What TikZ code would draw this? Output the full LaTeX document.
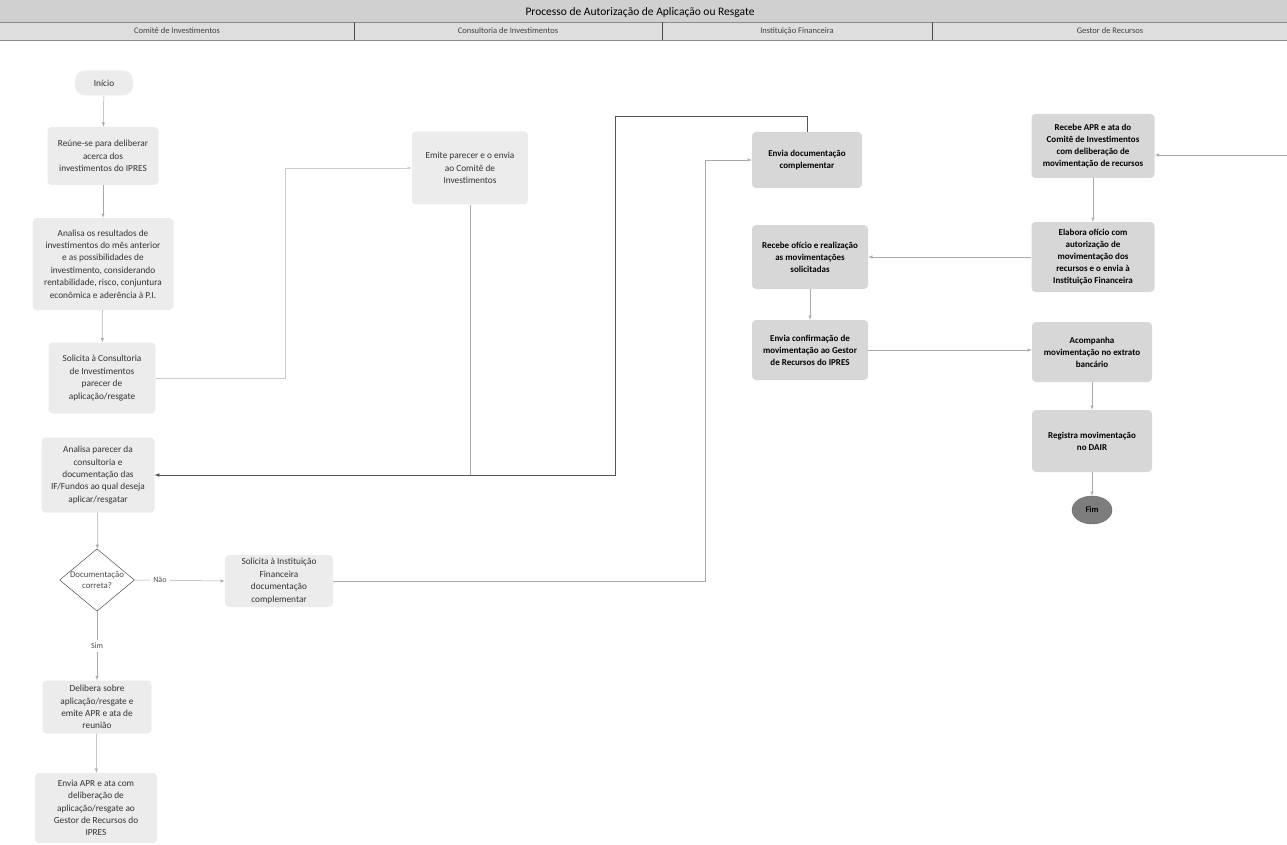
\documentclass[tikz,border=0pt]{standalone}
\usepackage{fontspec}
\setmainfont{Carlito}
\usetikzlibrary{shapes.geometric}
\definecolor{titlegray}{RGB}{208,208,208}
\definecolor{lanegray}{RGB}{222,222,222}
\definecolor{stepfill}{RGB}{236,236,236}
\definecolor{stepdark}{RGB}{215,215,215}
\definecolor{flowgray}{RGB}{170,170,170}
\definecolor{loopgray}{RGB}{85,85,85}
\definecolor{finish}{RGB}{125,125,125}
\tikzstyle{box}=[rectangle, rounded corners=4pt, fill=stepfill, align=center, inner sep=2pt, text=black!80, font=\fontsize{9.3}{12.4}\selectfont]
\tikzstyle{darkbox}=[box, fill=stepdark, text=black, font=\fontsize{9}{12}\selectfont\bfseries]
\tikzstyle{decision}=[diamond, aspect=1.2, draw=black!70, line width=.5pt, fill=white, align=center, inner sep=0pt, text=black!70, font=\fontsize{8.8}{11.5}\selectfont]
\tikzset{flow/.style={-latex, draw=flowgray, line width=.5pt}}
\tikzset{back/.style={-latex, draw=loopgray, line width=.6pt}}
\tikzset{lanetitle/.style={font=\fontsize{8.5}{10}\selectfont, text=black!75}}

\begin{document}
\begin{tikzpicture}[x=1pt,y=-1pt]
  \useasboundingbox (0,0) rectangle (1287,845);
  %% Header
  \fill[titlegray] (0,0) rectangle (1287,22);
  \fill[lanegray] (0,22) rectangle (1287,40);
  \draw[black!45,line width=.4pt] (0,22) -- (1287,22);
  \draw[black!45,line width=.4pt] (0,40) -- (1287,40);
  \draw[black!70,line width=.5pt] (354,22) -- (354,40);
  \draw[black!70,line width=.5pt] (662,22) -- (662,40);
  \draw[black!70,line width=.5pt] (932,22) -- (932,40);
  \draw (640,12) node[font=\fontsize{11.5}{13}\selectfont] (T0) {Processo de Autorização de Aplicação ou Resgate};
  \draw (177,31) node[lanetitle] (L1) {Comitê de Investimentos};
  \draw (508,31) node[lanetitle] (L2) {Consultoria de Investimentos};
  \draw (797,31) node[lanetitle] (L3) {Instituição Financeira};
  \draw (1110,31) node[lanetitle] (L4) {Gestor de Recursos};

  %% Comite de Investimentos
  \draw (104,83) node[box,rounded corners=10pt,minimum width=58,minimum height=25] (C1) {Início};
  \draw (103,156) node[box,minimum width=111,minimum height=58] (C2) {Reúne-se para deliberar\\acerca dos\\investimentos do IPRES};
  \draw (103,264) node[box,minimum width=141,minimum height=92] (C3) {Analisa os resultados de\\investimentos do mês anterior\\e as possibilidades de\\investimento, considerando\\rentabilidade, risco, conjuntura\\econômica e aderência à P.I.};
  \draw (102,378) node[box,minimum width=107,minimum height=71] (C4) {Solicita à Consultoria\\de Investimentos\\parecer de\\aplicação/resgate};
  \draw (98,475) node[box,minimum width=113,minimum height=75] (C5) {Analisa parecer da\\consultoria e\\documentação das\\IF/Fundos ao qual deseja\\aplicar/resgatar};
  \draw (97,580) node[decision] (C6) {Documentação\\correta?};
  \draw (279,581) node[box,minimum width=108,minimum height=52] (C7) {Solicita à Instituição\\Financeira\\documentação\\complementar};
  \draw (97,707) node[box,minimum width=109,minimum height=53] (C8) {Delibera sobre\\aplicação/resgate e\\emite APR e ata de\\reunião};
  \draw (96,808) node[box,minimum width=122,minimum height=70] (C9) {Envia APR e ata com\\deliberação de\\aplicação/resgate ao\\Gestor de Recursos do\\IPRES};

  %% Consultoria
  \draw (470,168) node[box,minimum width=116,minimum height=73] (K1) {Emite parecer e o envia\\ao Comitê de\\Investimentos};

  %% Instituicao Financeira
  \draw (807,160) node[darkbox,minimum width=110,minimum height=56] (F1) {Envia documentação\\complementar};
  \draw (810,257) node[darkbox,minimum width=116,minimum height=64] (F2) {Recebe ofício e realização\\as movimentações\\solicitadas};
  \draw (810,350) node[darkbox,minimum width=116,minimum height=60] (F3) {Envia confirmação de\\movimentação ao Gestor\\de Recursos do IPRES};

  %% Gestor de Recursos
  \draw (1093,146) node[darkbox,minimum width=123,minimum height=64] (G1) {Recebe APR e ata do\\Comitê de Investimentos\\com deliberação de\\movimentação de recursos};
  \draw (1093,257) node[darkbox,minimum width=123,minimum height=70] (G2) {Elabora ofício com\\autorização de\\movimentação dos\\recursos e o envia à\\Instituição Financeira};
  \draw (1092,352) node[darkbox,minimum width=120,minimum height=60] (G3) {Acompanha\\movimentação no extrato\\bancário};
  \draw (1092,441) node[darkbox,minimum width=120,minimum height=62] (G4) {Registra movimentação\\no DAIR};
  \draw (1092,510) node[ellipse,fill=finish,draw=black!60,line width=.4pt,minimum width=40,minimum height=28,inner sep=0pt,font=\fontsize{8.5}{10}\selectfont\bfseries] (G5) {Fim};
  \coordinate (R1) at (1287,155);
  \coordinate (J1) at (615,475);

  \draw[flow] (C1) -- (C2);
  \draw[flow] (C2) -- (C3);
  \draw[flow] (C3) -- (C4);
  \draw[flow,draw=black!20] (C4.east) -- ++(130,0) |- (K1.west);
  \draw[flow] (K1.south) |- (C5.east);
  \draw[flow] (C5) -- (C6);
  \draw[flow] (C6.east) -- (C7.west) node[pos=.28,fill=white,text=black!70,font=\fontsize{8}{10}\selectfont] {Não};
  \draw[flow] (C6.south) -- (C8.north) node[midway,fill=white,text=black!70,font=\fontsize{8}{10}\selectfont] {Sim};
  \draw[flow] (C8) -- (C9);
  \draw[flow] (C7.east) -- ++(372,0) |- (F1.west);
  \draw[back] (F1.north) -- ++(0,-15) -| (J1) -- (C5.east);
  \draw[flow] (R1) -- (R1 -| G1.east);
  \draw[flow] (G1) -- (G2);
  \draw[flow] (G2.west) -- (G2.west -| F2.east);
  \draw[flow] (F2) -- (F3);
  \draw[flow] (F3.east) -- (F3.east -| G3.west);
  \draw[flow] (G3) -- (G4);
  \draw[flow] (G4) -- (G5);
\end{tikzpicture}
\end{document}
